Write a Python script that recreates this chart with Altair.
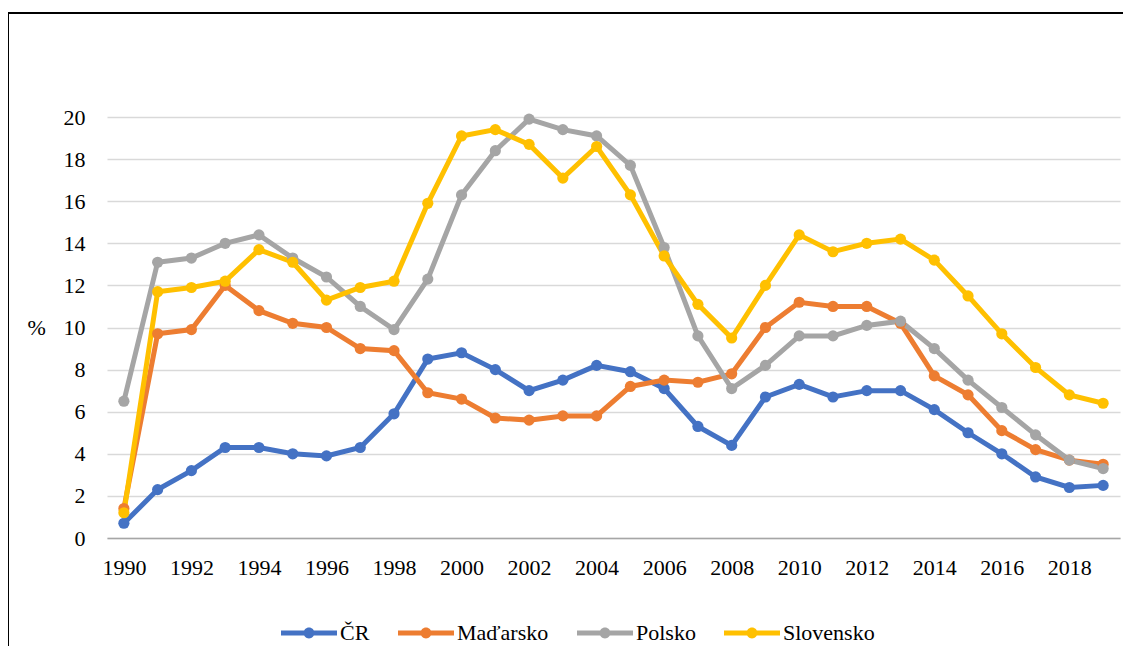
import altair as alt
import pandas as pd

years = list(range(1990, 2020))
series_names = ["ČR", "Maďarsko", "Polsko", "Slovensko"]
colors = ["#4472C4", "#ED7D31", "#A5A5A5", "#FFC000"]

cr = [0.7, 2.3, 3.2, 4.3, 4.3, 4.0, 3.9, 4.3, 5.9, 8.5,
      8.8, 8.0, 7.0, 7.5, 8.2, 7.9, 7.1, 5.3, 4.4, 6.7,
      7.3, 6.7, 7.0, 7.0, 6.1, 5.0, 4.0, 2.9, 2.4, 2.5]
madarsko = [1.4, 9.7, 9.9, 12.0, 10.8, 10.2, 10.0, 9.0, 8.9, 6.9,
            6.6, 5.7, 5.6, 5.8, 5.8, 7.2, 7.5, 7.4, 7.8, 10.0,
            11.2, 11.0, 11.0, 10.2, 7.7, 6.8, 5.1, 4.2, 3.7, 3.5]
polsko = [6.5, 13.1, 13.3, 14.0, 14.4, 13.3, 12.4, 11.0, 9.9, 12.3,
          16.3, 18.4, 19.9, 19.4, 19.1, 17.7, 13.8, 9.6, 7.1, 8.2,
          9.6, 9.6, 10.1, 10.3, 9.0, 7.5, 6.2, 4.9, 3.7, 3.3]
slovensko = [1.2, 11.7, 11.9, 12.2, 13.7, 13.1, 11.3, 11.9, 12.2, 15.9,
             19.1, 19.4, 18.7, 17.1, 18.6, 16.3, 13.4, 11.1, 9.5, 12.0,
             14.4, 13.6, 14.0, 14.2, 13.2, 11.5, 9.7, 8.1, 6.8, 6.4]

x_labels = list(range(1990, 2019, 2))
y_ticks = list(range(0, 21, 2))

rows = []
for name, vals in zip(series_names, [cr, madarsko, polsko, slovensko]):
    for y, v in zip(years, vals):
        rows.append({"year": y, "value": v, "series": name})
df = pd.DataFrame(rows)

FONT = "Liberation Serif, DejaVu Serif, serif"
FS = 22

color_scale = alt.Scale(domain=series_names, range=colors)

x_enc = alt.X(
    "year:O",
    scale=alt.Scale(type="point", padding=0.5),
    axis=alt.Axis(
        values=x_labels, labelAngle=0, title=None, ticks=False, tickSize=0,
        labelPadding=19, domainColor="#A6A6A6", domainWidth=1.5,
        labelFont=FONT, labelFontSize=FS, labelColor="black", grid=False,
    ),
)
y_enc = alt.Y(
    "value:Q",
    scale=alt.Scale(domain=[0, 20], nice=False),
    axis=alt.Axis(
        values=y_ticks, title="%", titleAngle=0, titleAlign="left",
        titleBaseline="middle", titleX=-80, titleY=210,
        titleFont=FONT, titleFontSize=FS, titleFontWeight="normal", titleColor="black",
        ticks=False, tickSize=0, labelPadding=22, domain=False,
        labelFont=FONT, labelFontSize=FS, labelColor="black",
        grid=True, gridColor="#D9D9D9", gridWidth=1.3,
    ),
)

# legend glyph: a short thick line with a dot in the middle (spans -2..2 horizontally)
legend_symbol = (
    "M-2,-0.18 L-0.25,-0.18 L-0.25,0.18 L-2,0.18 Z "
    "M0.25,-0.18 L2,-0.18 L2,0.18 L0.25,0.18 Z "
    "M-0.39,0 A0.39,0.39 0 1,1 0.39,0 A0.39,0.39 0 1,1 -0.39,0 Z"
)

legend = alt.Legend(
    title=None, orient="none", direction="horizontal",
    legendX=188, legendY=502,
    symbolType=legend_symbol, symbolSize=784, symbolStrokeWidth=0,
    symbolOpacity=1,
    labelFont=FONT, labelFontSize=FS, labelColor="black",
    labelOffset=17, columnPadding=28,
)

color_enc = alt.Color("series:N", scale=color_scale, legend=legend)

lines = alt.Chart(df).mark_line(strokeWidth=5).encode(
    x=x_enc,
    y=y_enc,
    color=color_enc,
)

points = alt.Chart(df).mark_circle(size=125, opacity=1).encode(
    x=x_enc,
    y=y_enc,
    color=color_enc,
)

frame = alt.Chart(alt.Data(values=[{"a": 1}])).mark_rect(
    filled=False, stroke="black", strokeWidth=2
).encode(
    x=alt.value(-99), x2=alt.value(1100), y=alt.value(-104), y2=alt.value(600)
)

chart = alt.layer(frame, lines, points).properties(
    width=1013,
    height=421,
    autosize=alt.AutoSizeParams(type="none"),
    padding={"left": 99, "top": 109, "right": 3, "bottom": 108},
).configure(background="white", font=FONT).configure_view(stroke=None)

chart.save("out.html", embed_options={"renderer": "svg", "actions": False})
